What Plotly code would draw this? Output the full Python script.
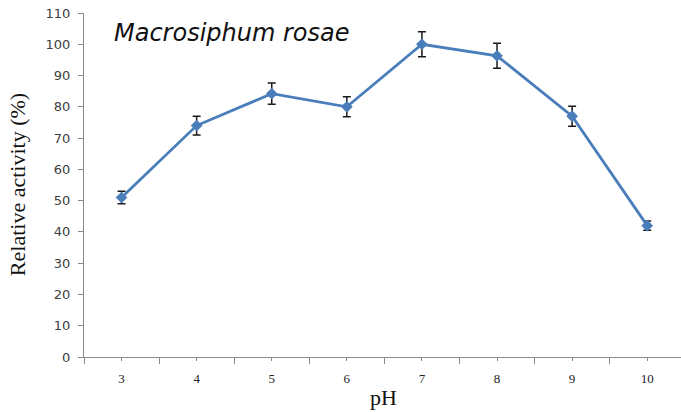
import plotly.graph_objects as go

ph = [3, 4, 5, 6, 7, 8, 9, 10]
activity = [51, 74, 84.2, 80, 100, 96.3, 77, 42]
errors = [2, 3, 3.4, 3.2, 4, 4, 3.2, 1.5]
y_ticks = list(range(0, 111, 10))

fig = go.Figure()
fig.add_trace(go.Scatter(
    x=ph, y=activity, mode="lines+markers",
    line=dict(color="#4a7ebb", width=2.8),
    marker=dict(symbol="diamond", size=9, color="#4a7ebb"),
    error_y=dict(type="data", array=errors, visible=True, color="#1a1a1a", thickness=1.5, width=4),
    showlegend=False,
))

axis_color = "#8a8a8a"
fig.update_layout(
    width=681, height=412,
    margin=dict(l=84, r=0, t=13, b=55),
    paper_bgcolor="white", plot_bgcolor="white",
    xaxis=dict(
        range=[2.5, 10.45], tickvals=ph, ticktext=[str(v) for v in ph],
        showline=True, linecolor=axis_color, linewidth=1,
        ticks="outside", ticklen=3, tickcolor=axis_color,
        minor=dict(tick0=2.5, dtick=1, ticks="outside", ticklen=6, tickcolor=axis_color),
        showgrid=False, zeroline=False,
        tickfont=dict(family="Liberation Serif", size=13, color="#222222"),
        ticklabelstandoff=6,
    ),
    yaxis=dict(
        range=[0, 110], tickvals=y_ticks,
        showline=True, linecolor=axis_color, linewidth=1,
        ticks="outside", ticklen=5, tickcolor=axis_color,
        showgrid=False, zeroline=False,
        tickfont=dict(family="DejaVu Sans", size=13, color="#404040"),
        ticklabelstandoff=5,
    ),
    annotations=[
        dict(text="<i>Macrosiphum rosae</i>", xref="paper", yref="paper",
             x=0.248, y=0.942, showarrow=False, xanchor="center", yanchor="middle",
             font=dict(family="DejaVu Sans", size=24, color="#111111")),
        dict(text="pH", xref="paper", yref="paper", x=0.502, y=-0.118,
             showarrow=False, xanchor="center", yanchor="middle",
             font=dict(family="Liberation Serif", size=22, color="#111111")),
        dict(text="Relative activity (%)", xref="paper", yref="paper",
             x=-0.112, y=0.5, textangle=-90, showarrow=False,
             xanchor="center", yanchor="middle",
             font=dict(family="Liberation Serif", size=22, color="#111111")),
    ],
)

fig.write_html("out.html", config={"displayModeBar": False},
               post_script="document.body.style.margin='0';")
